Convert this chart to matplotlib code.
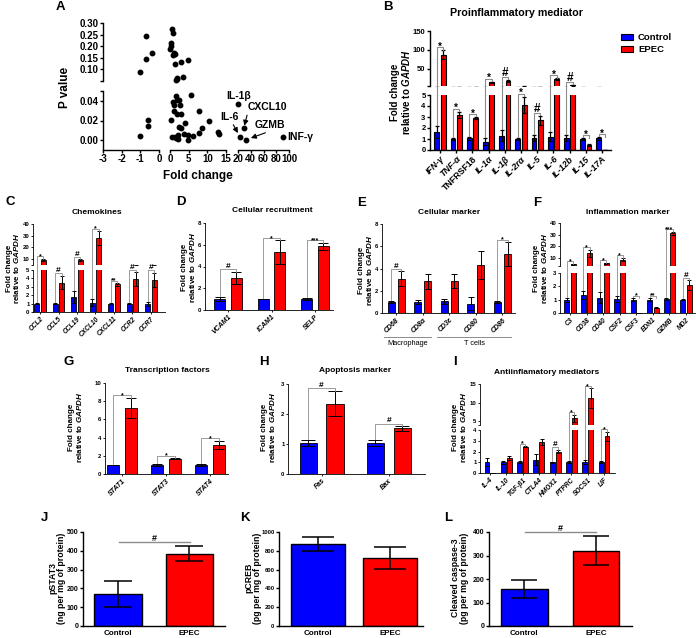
import numpy as np
import matplotlib
matplotlib.use('Agg')
import matplotlib.pyplot as plt
from matplotlib.lines import Line2D
from matplotlib.patches import Patch
from matplotlib.ticker import FormatStrFormatter
import matplotlib.transforms as mtransforms

# ---------------- data ----------------
# Panel A: volcano-like scatter (fold change vs P value)
A_FOLD = [-1.03, -0.67, -0.68, -0.39, 0.50, 0.70, 0.36, 0.00, 0.20, 1.00, 0.70, 1.30, 1.40, 1.80, 1.60, 2.00, 3.00, 3.40, 4.90,
          -1.03, -0.61, -0.58, 0.36, 1.50, 1.90, 2.30, 0.80, 1.20, 2.70, 1.10, 1.80, 2.90, 5.50, 7.90, 10.5, 2.40, 2.90, 4.10, 8.50,
          7.70, 12.8, 13.0, 0.50, 1.25, 1.60, 2.05, 2.10, 3.70, 4.90, 4.70, 6.10]
A_P = [0.090, 0.243, 0.146, 0.169, 0.276, 0.256, 0.214, 0.190, 0.200, 0.170, 0.160, 0.165, 0.124, 0.063, 0.056, 0.057, 0.133, 0.066, 0.140,
       0.004, 0.0207, 0.0146, 0.021, 0.0454, 0.041, 0.041, 0.0386, 0.036, 0.036, 0.030, 0.027, 0.027, 0.046, 0.030, 0.020, 0.0136, 0.012, 0.017, 0.012,
       0.0068, 0.0085, 0.006, 0.0034, 0.0034, 0.0017, 0.005, 0.0007, 0.0058, 0.0054, 0.0, 0.0047]
A_NAMED = ['IL-1β', 'IL-6', 'CXCL10', 'GZMB', 'INF-γ']
A_NAMED_FOLD = [20.5, 23.0, 29.0, 32.0, 90.0]
A_NAMED_P = [0.0368, 0.0035, 0.012, 0.0002, 0.003]

B_GENES = ['IFN-γ', 'TNF-α', 'TNFRSF18', 'IL-1α', 'IL-1β', 'IL-2rα', 'IL-5', 'IL-6', 'IL-12b', 'IL-15', 'IL-17A']
B_CTRL = [1.6, 1.0, 1.05, 0.75, 1.3, 1.0, 1.1, 1.2, 1.1, 1.0, 1.05]
B_CTRL_ERR = [0.55, 0.05, 0.12, 0.3, 0.5, 0.12, 0.25, 0.4, 0.3, 0.05, 0.1]
B_EPEC = [87, 3.2, 2.9, 15, 19, 4.1, 2.7, 23, 7.5, 0.45, 0.02]
B_EPEC_ERR = [12, 0.3, 0.12, 1.5, 3, 0.75, 0.4, 3, 1.2, 0.12, 0.01]
B_SIG = ['*', '*', '*', '*', '#', '*', '#', '*', '#', '*', '*']

C_GENES = ['CCL2', 'CCL5', 'CCL19', 'CXCL10', 'CXCL11', 'CCR2', 'CCR7']
C_CTRL = [1.0, 1.0, 1.8, 1.1, 1.0, 1.0, 0.95]
C_CTRL_ERR = [0.1, 0.1, 0.75, 0.4, 0.08, 0.1, 0.2]
C_EPEC = [9.2, 3.5, 9.0, 28, 3.3, 3.9, 3.85]
C_EPEC_ERR = [1.0, 0.8, 1.0, 6, 0.15, 0.85, 0.85]
C_SIG = ['*', '#', '#', '*', '**', '#', '#']

D_GENES = ['VCAM1', 'ICAM1', 'SELP']
D_CTRL = [1.0, 1.0, 1.0]
D_CTRL_ERR = [0.15, 0.03, 0.07]
D_EPEC = [2.95, 5.3, 5.85]
D_EPEC_ERR = [0.55, 1.1, 0.35]
D_SIG = ['#', '*', '***']

E_GENES = ['CD68', 'CD8α', 'CD3ε', 'CD80', 'CD86']
E_CTRL = [1.0, 1.0, 1.05, 0.85, 1.0]
E_CTRL_ERR = [0.1, 0.15, 0.25, 0.55, 0.1]
E_EPEC = [3.1, 2.85, 2.9, 4.35, 5.3]
E_EPEC_ERR = [0.65, 0.7, 0.65, 1.25, 1.05]
E_SIG = ['#', '', '', '', '*']
E_CELLTYPES = [('Macrophage', 0, 1), ('T cells', 2, 4)]

F_GENES = ['C3', 'CD38', 'CD40', 'CSF2', 'CSF3', 'EDN1', 'GZMB', 'MD2']
F_CTRL = [1.0, 1.35, 1.15, 1.05, 1.0, 1.0, 1.05, 1.0]
F_CTRL_ERR = [0.15, 0.3, 0.4, 0.25, 0.1, 0.1, 0.05, 0.03]
F_EPEC = [4.5, 14, 5.5, 8.5, 0.01, 0.4, 31, 2.1]
F_EPEC_ERR = [0.3, 3.0, 0.4, 1.5, 0.005, 0.05, 1.3, 0.35]
F_SIG = ['*', '*', '*', '*', '*', '**', '***', '#']

G_GENES = ['STAT1', 'STAT3', 'STAT4']
G_CTRL = [1.0, 1.0, 1.0]
G_CTRL_ERR = [0.03, 0.08, 0.1]
G_EPEC = [7.3, 1.7, 3.2]
G_EPEC_ERR = [1.1, 0.05, 0.45]
G_SIG = ['*', '*', '*']

H_GENES = ['Fas', 'Bax']
H_CTRL = [1.02, 1.02]
H_CTRL_ERR = [0.1, 0.1]
H_EPEC = [2.35, 1.52]
H_EPEC_ERR = [0.42, 0.08]
H_SIG = ['#', '#']

I_GENES = ['IL-4', 'IL-10', 'TGF-β1', 'CTLA4', 'HMOX1', 'PTPRC', 'SOCS1', 'LIF']
I_CTRL = [1.0, 1.0, 1.0, 1.25, 1.0, 1.0, 1.0, 1.0]
I_CTRL_ERR = [0.35, 0.15, 0.1, 0.55, 0.05, 0.1, 0.2, 0.1]
I_EPEC = [0.02, 1.4, 2.45, 2.9, 2.0, 5.8, 11.2, 3.4]
I_EPEC_ERR = [0.01, 0.2, 0.05, 0.25, 0.15, 1.0, 2.6, 0.45]
I_SIG = ['', '', '*', '', '#', '*', '*', '*']

GROUPS = ['Control', 'EPEC']
J_VAL = [170, 385]
J_ERR = [67, 39]
K_VAL = [873, 724]
K_ERR = [74, 115]
L_VAL = [158, 321]
L_ERR = [38, 60]

# ---------------- style ----------------
BLUE = '#0000FF'
RED = '#FF0000'
GRAY = '#8c8c8c'
W, H = 696, 638

plt.rcParams['font.family'] = ['Liberation Sans', 'DejaVu Sans']
plt.rcParams['font.weight'] = 'bold'
plt.rcParams['axes.labelweight'] = 'bold'
plt.rcParams['mathtext.fontset'] = 'custom'
plt.rcParams['mathtext.it'] = 'Liberation Sans:italic:bold'
plt.rcParams['mathtext.rm'] = 'Liberation Sans:bold'
plt.rcParams['mathtext.bf'] = 'Liberation Sans:bold'

fig = plt.figure(figsize=(W / 100, H / 100), dpi=100)


def axpx(x0, y0, x1, y1):
    return fig.add_axes([x0 / W, 1 - y1 / H, (x1 - x0) / W, (y1 - y0) / H])


def ftext(xp, yp, s, **kw):
    return fig.text(xp / W, 1 - yp / H, s, **kw)


def base_style(ax, fs, lw, tl):
    for s in ('top', 'right'):
        ax.spines[s].set_visible(False)
    for s in ('left', 'bottom'):
        ax.spines[s].set_linewidth(lw)
    ax.tick_params(axis='both', which='major', labelsize=fs, width=lw, length=tl, pad=1.0, direction='out')
    ax.tick_params(axis='both', which='minor', width=lw, length=tl, direction='out')
    ax.patch.set_visible(False)


def broken(x0, x1, hi_px, lo_px, hi_lim, lo_lim, xlim, fs, lw, tl):
    ah = axpx(x0, hi_px[0], x1, hi_px[1])
    al = axpx(x0, lo_px[0], x1, lo_px[1])
    for a, yl in ((ah, hi_lim), (al, lo_lim)):
        a.set_xlim(*xlim)
        a.set_ylim(*yl)
        base_style(a, fs, lw, tl)
    ah.spines['bottom'].set_visible(False)
    ah.tick_params(axis='x', which='both', bottom=False, labelbottom=False)
    ah.set_yticks([hi_lim[0]], minor=True)
    return ah, al


def single(x0, y0, x1, y1, ylim, xlim, fs, lw, tl):
    a = axpx(x0, y0, x1, y1)
    a.set_xlim(*xlim)
    a.set_ylim(*ylim)
    base_style(a, fs, lw, tl)
    return a


def draw_groups(axs, ctrl, cerr, epec, eerr, w, off, lw, elw, cap):
    x = np.arange(len(ctrl))
    for a in axs:
        a.bar(x - off, ctrl, w, color=BLUE, edgecolor='black', linewidth=lw, zorder=2)
        a.bar(x + off, epec, w, color=RED, edgecolor='black', linewidth=lw, zorder=2)
        a.errorbar(x - off, ctrl, yerr=cerr, fmt='none', ecolor='black', elinewidth=elw,
                   capsize=cap, capthick=elw, zorder=3)
        a.errorbar(x + off, epec, yerr=eerr, fmt='none', ecolor='black', elinewidth=elw,
                   capsize=cap, capthick=elw, zorder=3)
    return x


def to_disp(axs, x, y):
    if len(axs) == 2:
        ah, al = axs
        a = ah if y > al.get_ylim()[1] else al
    else:
        a = axs[0]
    return a.transData.transform((x, y))


def bracket(axs, xb, yb, xr, yr, label, fs, gap, lw, leg=2.5):
    pb = to_disp(axs, xb, yb)
    pr = to_disp(axs, xr, yr)
    h = max(pb[1], pr[1]) + gap
    pts = np.array([[pb[0], pb[1] + 1.0], [pb[0], h], [pr[0], h], [pr[0], h - leg]])
    f = fig.transFigure.inverted().transform(pts)
    fig.add_artist(Line2D(f[:, 0], f[:, 1], transform=fig.transFigure, color=GRAY, lw=lw))
    if label.startswith('*'):
        ty = h - 0.27 * fs * 100 / 72
    else:
        ty = h + 1.0
    t = fig.transFigure.inverted().transform(((pb[0] + pr[0]) / 2, ty))
    fig.text(t[0], t[1], label, ha='center', va='baseline', fontsize=fs)


def sigs(axs, x, ctrl, cerr, epec, eerr, off, labels, fs_star, fs_hash, gap, lw):
    for i, lab in enumerate(labels):
        if lab:
            bracket(axs, x[i] - off, ctrl[i] + cerr[i], x[i] + off, epec[i] + eerr[i], lab,
                    fs_star if '*' in lab else fs_hash, gap, lw)


def xlabels(ax, x, labels, fs, italic=True):
    ax.set_xticks(x)
    ax.set_xticklabels(labels, rotation=45, ha='right', rotation_mode='anchor', fontsize=fs,
                       fontstyle='italic' if italic else 'normal')


FC_LABEL = 'Fold change\nrelative to $\\mathit{GAPDH}$'

# ---------------- Panel A ----------------
A_COLS = [(103, 159, (-3, 0), [-3, -2, -1, 0]),
          (170, 226, (0, 15), [0, 5, 10, 15]),
          (238, 289, (20, 100), [20, 40, 60, 80, 100])]
fold_all = np.array(A_FOLD + A_NAMED_FOLD)
p_all = np.array(A_P + A_NAMED_P)
col_idx = np.where(fold_all < 0, 0, np.where(fold_all <= 15, 1, 2))
loA3 = None
for ci, (x0, x1, xl, xt) in enumerate(A_COLS):
    lo = axpx(x0, 91, x1, 150)
    lo.set_xlim(*xl)
    lo.set_ylim(-0.01, 0.05)
    base_style(lo, 7, 1.0, 2.2)
    lo.set_xticks(xt)
    lo.set_xticklabels([str(v) for v in xt])
    m = (col_idx == ci) & (p_all <= 0.05)
    lo.plot(fold_all[m], p_all[m], 'o', color='black', ms=3.2, clip_on=False, zorder=3)
    if ci == 0:
        lo.set_yticks([0.0, 0.02, 0.04])
        lo.yaxis.set_major_formatter(FormatStrFormatter('%.2f'))
        lo.set_yticks([0.05], minor=True)
    else:
        lo.spines['left'].set_visible(False)
        lo.tick_params(axis='y', which='both', left=False, labelleft=False)
    if ci < 2:
        hi = axpx(x0, 23, x1, 81)
        hi.set_xlim(*xl)
        hi.set_ylim(0.05, 0.30)
        base_style(hi, 7, 1.0, 2.2)
        hi.spines['bottom'].set_visible(False)
        hi.tick_params(axis='x', which='both', bottom=False, labelbottom=False)
        m = (col_idx == ci) & (p_all > 0.05)
        hi.plot(fold_all[m], p_all[m], 'o', color='black', ms=3.2, clip_on=False, zorder=3)
        if ci == 0:
            hi.set_yticks([0.10, 0.15, 0.20, 0.25, 0.30])
            hi.yaxis.set_major_formatter(FormatStrFormatter('%.2f'))
            hi.set_yticks([0.05], minor=True)
        else:
            hi.spines['left'].set_visible(False)
            hi.tick_params(axis='y', which='both', left=False, labelleft=False)
    if ci == 2:
        loA3 = lo

ARW = dict(arrowstyle='-|>,head_length=0.4,head_width=0.2', color='black', lw=0.8, shrinkA=0)
A_TEXT = {
    'IL-1β': dict(xytext=(0, 2.2), ha='center', va='bottom', arrow=None),
    'IL-6': dict(xytext=(-7.2, 14.2), ha='center', va='center', arrow=(0.6, 0.0), shrinkB=3),
    'CXCL10': dict(xytext=(2.9, 15.1), ha='left', va='center', arrow=(0.0, 0.0), shrinkB=2),
    'GZMB': dict(xytext=(6.5, 10.8), ha='left', va='center', arrow=(0.6, 0.0), shrinkB=4),
    'INF-γ': dict(xytext=(3.6, 0), ha='left', va='center', arrow=None),
}
for name, fx, py in zip(A_NAMED, A_NAMED_FOLD, A_NAMED_P):
    o = A_TEXT[name]
    kw = {}
    if o['arrow'] is not None:
        ap = dict(ARW)
        ap['relpos'] = o['arrow']
        ap['shrinkB'] = o['shrinkB']
        kw['arrowprops'] = ap
    loA3.annotate(name, xy=(fx, py), xytext=o['xytext'], textcoords='offset points',
                  ha=o['ha'], va=o['va'], fontsize=7.5, annotation_clip=False, **kw)

ftext(65, 87, 'P value', rotation=90, ha='center', va='center', fontsize=8.5)
ftext(198, 176, 'Fold change', ha='center', va='center', fontsize=8.5)

# ---------------- Panel B ----------------
Bh, Bl = broken(430, 611, (31, 86), (95, 150), (5, 150), (0, 5), (-0.62, 10.56), 5.5, 1.0, 2.2)
Bh.set_yticks([50, 100, 150])
Bl.set_yticks([0, 1, 2, 3, 4, 5])
xB = draw_groups((Bh, Bl), B_CTRL, B_CTRL_ERR, B_EPEC, B_EPEC_ERR, 0.3, 0.2, 0.8, 0.9, 1.5)
xlabels(Bl, xB, B_GENES, 6.3)
Bl.get_xticklabels()[2].set_fontstyle('normal')
sigs((Bh, Bl), xB, B_CTRL, B_CTRL_ERR, B_EPEC, B_EPEC_ERR, 0.2, B_SIG, 7, 8.5, 3, 0.8)
ftext(401, 92, FC_LABEL, rotation=90, ha='center', va='center', fontsize=7, linespacing=1.1)
ftext(517, 13, 'Proinflammatory mediator', ha='center', va='center', fontsize=7.7)
Bh.legend(handles=[Patch(facecolor=BLUE, edgecolor='black', linewidth=0.8, label=GROUPS[0]),
                   Patch(facecolor=RED, edgecolor='black', linewidth=0.8, label=GROUPS[1])],
          loc='upper left', bbox_to_anchor=(621 / W, 1 - 33 / H), bbox_transform=fig.transFigure,
          frameon=False, fontsize=6.8, handlelength=1.3, handleheight=0.6, handletextpad=0.5,
          labelspacing=0.3, borderpad=0, borderaxespad=0)

# ---------------- Panel C ----------------
SMALL_FS = 4.3
Ch, Cl = broken(33, 165, (224, 265), (270, 312), (5, 40), (0, 5), (-0.38, 6.76), SMALL_FS, 0.6, 1.5)
Ch.set_yticks([10, 20, 30, 40])
Cl.set_yticks([0, 1, 2, 3, 4, 5])
xC = draw_groups((Ch, Cl), C_CTRL, C_CTRL_ERR, C_EPEC, C_EPEC_ERR, 0.27, 0.18, 0.6, 0.7, 1.1)
xlabels(Cl, xC, C_GENES, 4.8)
sigs((Ch, Cl), xC, C_CTRL, C_CTRL_ERR, C_EPEC, C_EPEC_ERR, 0.18, C_SIG, 5, 6, 2.5, 0.6)

# ---------------- Panel D ----------------
aD = single(205, 223, 333, 310, (0, 8), (-0.53, 2.41), SMALL_FS, 0.6, 1.5)
aD.set_yticks([0, 2, 4, 6, 8])
xD = draw_groups((aD,), D_CTRL, D_CTRL_ERR, D_EPEC, D_EPEC_ERR, 0.25, 0.19, 0.6, 0.7, 3.6)
xlabels(aD, xD, D_GENES, 5)
sigs((aD,), xD, D_CTRL, D_CTRL_ERR, D_EPEC, D_EPEC_ERR, 0.19, D_SIG, 5, 6, 2.5, 0.6)

# ---------------- Panel E ----------------
aE = single(382, 224, 515, 313, (0, 8), (-0.53, 4.47), SMALL_FS, 0.6, 1.5)
aE.set_yticks([0, 2, 4, 6, 8])
xE = draw_groups((aE,), E_CTRL, E_CTRL_ERR, E_EPEC, E_EPEC_ERR, 0.263, 0.19, 0.6, 0.7, 2.4)
xlabels(aE, xE, E_GENES, 5)
sigs((aE,), xE, E_CTRL, E_CTRL_ERR, E_EPEC, E_EPEC_ERR, 0.19, E_SIG, 5, 6, 2.5, 0.6)
trE = mtransforms.blended_transform_factory(aE.transData, fig.transFigure)
for name, g0, g1 in E_CELLTYPES:
    fig.add_artist(Line2D([g0 - 0.45, g1 + 0.32], [1 - 337 / H, 1 - 337 / H], transform=trE,
                          color=GRAY, lw=0.7))
    fig.text((g0 + g1) / 2 - 0.06, 1 - 343.5 / H, name, transform=trE, ha='center', va='center',
             fontsize=5.3, fontweight='normal')

# ---------------- Panel F ----------------
Fh, Fl = broken(560, 695, (223, 266), (273, 313), (3, 40), (0, 3), (-0.6, 7.54), SMALL_FS, 0.6, 1.5)
Fh.set_yticks([10, 20, 30, 40])
Fl.set_yticks([0, 1, 2, 3])
xF = draw_groups((Fh, Fl), F_CTRL, F_CTRL_ERR, F_EPEC, F_EPEC_ERR, 0.3, 0.19, 0.6, 0.7, 1.3)
xlabels(Fl, xF, F_GENES, 4.8)
sigs((Fh, Fl), xF, F_CTRL, F_CTRL_ERR, F_EPEC, F_EPEC_ERR, 0.19, F_SIG, 5, 6, 2.5, 0.6)

# ---------------- Panel G ----------------
aG = single(105, 383, 228, 474, (0, 10), (-0.39, 2.41), SMALL_FS, 0.6, 1.5)
aG.set_yticks([0, 2, 4, 6, 8, 10])
xG = draw_groups((aG,), G_CTRL, G_CTRL_ERR, G_EPEC, G_EPEC_ERR, 0.27, 0.2, 0.6, 0.7, 3.9)
xlabels(aG, xG, G_GENES, 5)
sigs((aG,), xG, G_CTRL, G_CTRL_ERR, G_EPEC, G_EPEC_ERR, 0.2, G_SIG, 5, 6, 2.5, 0.6)

# ---------------- Panel H ----------------
aH = single(288, 384, 425, 474, (0, 3), (-0.5, 1.54), SMALL_FS, 0.6, 1.5)
aH.set_yticks([0, 1, 2, 3])
xH = draw_groups((aH,), H_CTRL, H_CTRL_ERR, H_EPEC, H_EPEC_ERR, 0.254, 0.2, 0.6, 0.7, 5)
xlabels(aH, xH, H_GENES, 5)
sigs((aH,), xH, H_CTRL, H_CTRL_ERR, H_EPEC, H_EPEC_ERR, 0.2, H_SIG, 5, 6, 2.5, 0.6)

# ---------------- Panel I ----------------
Ih, Il = broken(480, 615, (384, 425), (430, 473), (4, 15), (0, 4), (-0.61, 7.67), SMALL_FS, 0.6, 1.5)
Ih.set_yticks([5, 10, 15])
Il.set_yticks([0, 1, 2, 3, 4])
xI = draw_groups((Ih, Il), I_CTRL, I_CTRL_ERR, I_EPEC, I_EPEC_ERR, 0.3, 0.18, 0.6, 0.7, 1.4)
xlabels(Il, xI, I_GENES, 4.8)
sigs((Ih, Il), xI, I_CTRL, I_CTRL_ERR, I_EPEC, I_EPEC_ERR, 0.18, I_SIG, 5, 6, 2.5, 0.6)

# small-panel titles and y labels
for xp, yp, title in [(97, 212, 'Chemokines'), (272, 210, 'Cellular recruitment'),
                      (449, 212, 'Cellular marker'), (628, 213, 'Inflammation marker'),
                      (167, 371, 'Transcription factors'), (355, 371, 'Apoptosis marker'),
                      (547, 372, 'Antiinflamatory mediators')]:
    ftext(xp, yp, title, ha='center', va='center', fontsize=6)
for xp, yp in [(13.5, 268), (189, 267), (366, 270), (541, 268), (76, 427), (269, 427), (460, 427)]:
    ftext(xp, yp, FC_LABEL, rotation=90, ha='center', va='center', fontsize=5.8, linespacing=0.9)


# ---------------- Panels J, K, L ----------------
def two_bar(x0, x1, ymax, step, vals, errs, width, cap, sig, ylab, ylab_x, tfs):
    a = single(x0, 532, x1, 626, (0, ymax), (-0.5, 1.5), tfs, 1.0, 2.2)
    a.set_yticks(np.arange(0, ymax + 1, step))
    x = np.arange(len(vals))
    a.bar(x, vals, width, color=[BLUE, RED], edgecolor='black', linewidth=1.0, zorder=2)
    a.errorbar(x, vals, yerr=errs, fmt='none', ecolor='black', elinewidth=1.1, capsize=cap,
               capthick=1.1, zorder=3)
    a.set_xticks(x)
    a.set_xticklabels(GROUPS, fontsize=5.8)
    a.tick_params(axis='x', length=0, pad=3)
    if sig:
        p0 = a.transData.transform((x[0], vals[0] + errs[0]))
        p1 = a.transData.transform((x[1], vals[1] + errs[1]))
        h = max(p0[1], p1[1]) + 4.5
        f = fig.transFigure.inverted().transform([[p0[0], h], [p1[0], h]])
        fig.add_artist(Line2D(f[:, 0], f[:, 1], transform=fig.transFigure, color=GRAY, lw=1.0))
        t = fig.transFigure.inverted().transform(((p0[0] + p1[0]) / 2, h + 1.2))
        fig.text(t[0], t[1], sig, ha='center', va='baseline', fontsize=6.5)
    ftext(ylab_x, 578, ylab, rotation=90, ha='center', va='center', fontsize=6.3, linespacing=1.0)
    return a


aJ = two_bar(83, 225, 500, 100, J_VAL, J_ERR, 0.66, 10, '#', 'pSTAT3\n(ng per mg of protein)', 57, 5)
aK = two_bar(279, 423, 1000, 200, K_VAL, K_ERR, 0.74, 11.5, '', 'pCREB\n(pg per mg of protein)', 253.5, 4.2)
aL = two_bar(489, 632, 400, 100, L_VAL, L_ERR, 0.65, 9.7, '#', 'Cleaved caspase-3\n(pg per mg of protein)', 460, 5)
aJ.set_xlim(-0.49, 1.5)
aK.set_xlim(-0.54, 1.46)
aL.set_xlim(-0.49, 1.5)

# ---------------- panel letters ----------------
for xp, yp, s in [(60, 7.5, 'A'), (388, 7.5, 'B'), (10, 202, 'C'), (181, 202, 'D'), (362, 203, 'E'),
                  (537, 203, 'F'), (69, 362, 'G'), (264, 362, 'H'), (455, 362, 'I'), (44, 518, 'J'),
                  (245, 518, 'K'), (448, 518, 'L')]:
    ftext(xp, yp, s, ha='center', va='center', fontsize=9.5)

fig.savefig('out.png', dpi=100)
